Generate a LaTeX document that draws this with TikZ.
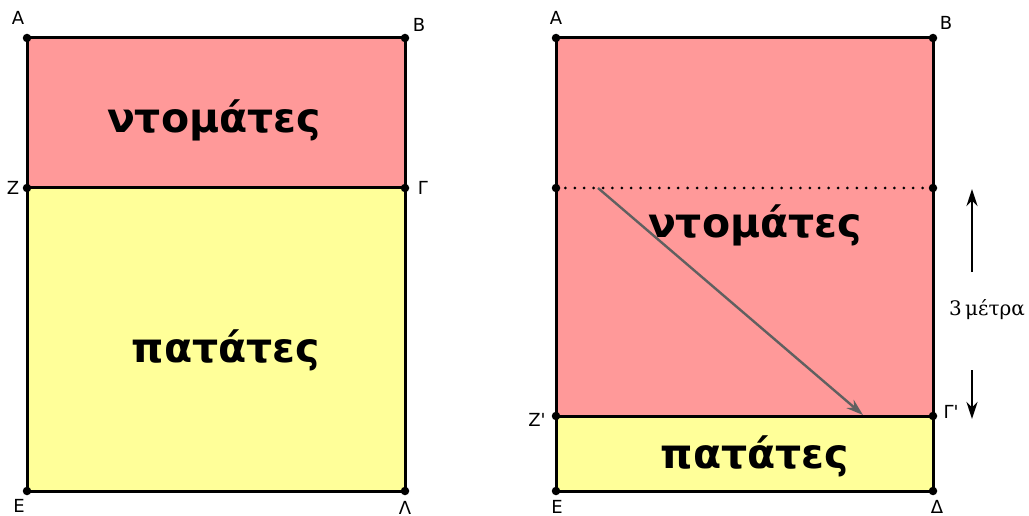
\documentclass[tikz,border=0pt]{standalone}
\usepackage{fontspec}
\setmainfont{DejaVu Sans}
\newfontfamily\bigfont{DejaVu Sans}
\newfontfamily\serffont{DejaVu Serif}
\usetikzlibrary{arrows.meta}
\definecolor{tom}{RGB}{255,153,153}
\definecolor{pot}{RGB}{255,255,153}
\definecolor{arrgray}{RGB}{96,96,96}
\tikzset{
  edge/.style={draw=black,line width=3pt,line join=round},
  dot/.style={circle,fill=black,inner sep=0pt,minimum size=8.5pt},
  lbl/.style={font=\fontsize{18}{18}\selectfont,inner sep=0pt},
  big/.style={font=\bigfont\bfseries\fontsize{41}{41}\selectfont,inner sep=0pt},
  arr/.style={line width=2.6pt,-{Stealth[length=17pt,width=11pt]}}
}
\begin{document}
\begin{tikzpicture}[x=1pt,y=-1pt]
\useasboundingbox (0,0) rectangle (1029,516);
% left figure
\coordinate (LA) at (27,38);
\coordinate (LB) at (405,38);
\coordinate (LZ) at (27,188);
\coordinate (LG) at (405,188);
\coordinate (LE) at (27,491);
\coordinate (LL) at (405,491);
\fill[tom] (LA) rectangle (LG);
\fill[pot] (LZ) rectangle (LL);
\draw[edge] (LA) -- (LB) -- (LG) -- (LL) -- (LE) -- (LZ) -- cycle;
\draw[edge] (LZ) -- (LG);
\foreach \p in {LA,LB,LZ,LG,LE,LL} \node[dot] at (\p) {};
\node[lbl] (lA) at (18,18) {A};
\node[lbl] (lB) at (419,25) {B};
\node[lbl] (lZ) at (13,188) {Z};
\node[lbl] (lG) at (423,188) {Γ};
\node[lbl] (lE) at (19,506) {E};
\node[lbl] (lL) at (405,508) {Λ};
\node[big] (t1) at (214,120) {ντομάτες};
\node[big] (p1) at (226,350) {πατάτες};
% right figure
\coordinate (RA) at (556,38);
\coordinate (RB) at (933,38);
\coordinate (RM1) at (556,188);
\coordinate (RM2) at (933,188);
\coordinate (RZ) at (556,416);
\coordinate (RG) at (933,416);
\coordinate (RE) at (556,491);
\coordinate (RD) at (933,491);
\fill[tom] (RA) rectangle (RG);
\fill[pot] (RZ) rectangle (RD);
\draw[black,line width=3pt,line cap=round,dash pattern=on 0pt off 9.4pt] (RM1) -- (RM2);
\draw[edge] (RA) -- (RB) -- (RD) -- (RE) -- cycle;
\draw[edge] (RZ) -- (RG);
\foreach \p in {RA,RB,RM1,RM2,RZ,RG,RE,RD} \node[dot] at (\p) {};
\node[lbl] (rA) at (556,18) {A};
\node[lbl] (rB) at (946,23) {B};
\node[lbl] (rZ) at (537,420) {Z\textquotesingle};
\node[lbl] (rG) at (951,412) {Γ\textquotesingle};
\node[lbl] (rE) at (557,507) {E};
\node[lbl] (rD) at (937,507) {Δ};
\node[big] (t2) at (755,225) {ντομάτες};
\node[big] (p2) at (755,456) {πατάτες};
\coordinate (s1) at (598,188);
\coordinate (s2) at (863,415);
\draw[arr,draw=arrgray,fill=arrgray,line width=2.4pt] (s1) -- (s2);
\coordinate (u1) at (972,272);
\coordinate (u2) at (972,189);
\coordinate (d1) at (972,370);
\coordinate (d2) at (972,419);
\draw[arr] (u1) -- (u2);
\draw[arr] (d1) -- (d2);
\node[font=\serffont\fontsize{20}{20}\selectfont,inner sep=0pt] (m) at (987,310) {3\,μέτρα};
\end{tikzpicture}
\end{document}
